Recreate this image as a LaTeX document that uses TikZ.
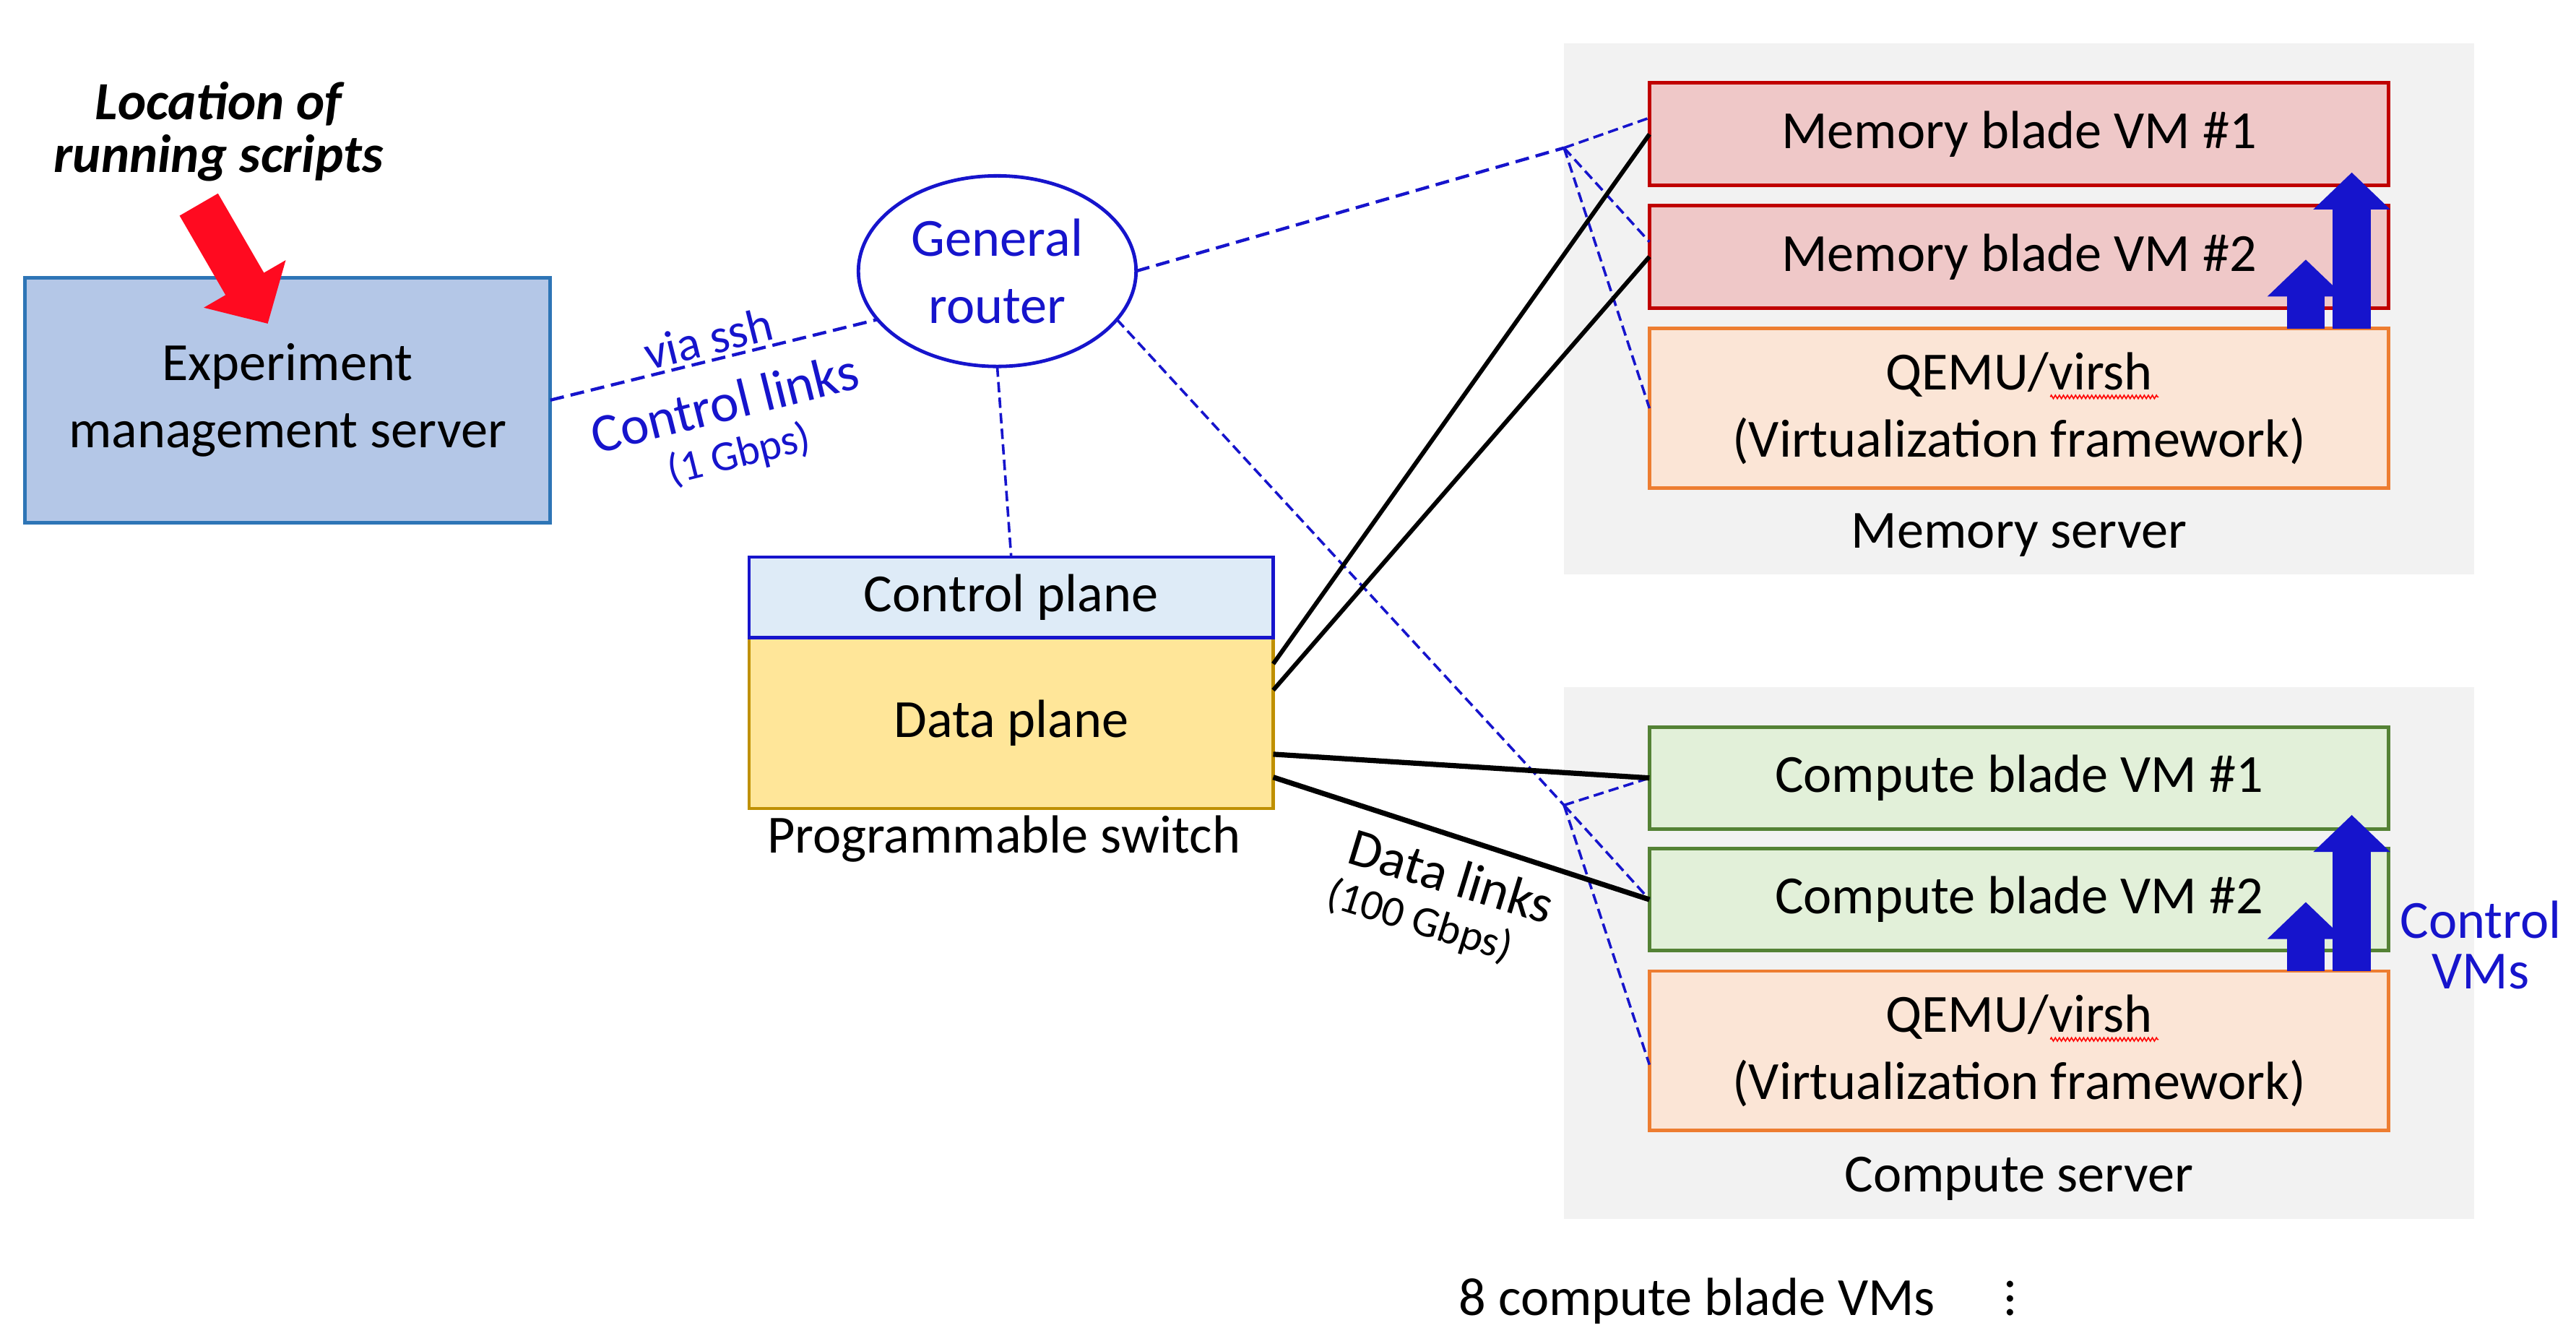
\documentclass[tikz,border=0pt]{standalone}
\usepackage{fontspec}
\setmainfont{Carlito}
\usepackage{tikz}
\usetikzlibrary{arrows.meta,positioning,calc,shapes.geometric,decorations.pathmorphing}
\definecolor{ctrlblue}{RGB}{22,20,204}
\definecolor{mgmtfill}{RGB}{180,199,231}
\definecolor{mgmtdraw}{RGB}{46,117,182}
\definecolor{cpfill}{RGB}{222,235,247}
\definecolor{dpfill}{RGB}{255,230,153}
\definecolor{dpdraw}{RGB}{191,144,0}
\definecolor{memfill}{RGB}{239,200,200}
\definecolor{memdraw}{RGB}{192,0,0}
\definecolor{qemufill}{RGB}{251,229,214}
\definecolor{qemudraw}{RGB}{237,125,49}
\definecolor{compfill}{RGB}{226,240,217}
\definecolor{compdraw}{RGB}{84,130,53}
\definecolor{serverbg}{RGB}{242,242,242}
\definecolor{scriptred}{RGB}{255,10,32}
\tikzset{
  txt/.style={inner sep=0pt,outer sep=0pt,align=center,font=\fontsize{9.3}{11.6}\selectfont},
  box/.style={txt,rectangle,draw,line width=0.6pt},
  mgmt box/.style={box,fill=mgmtfill,draw=mgmtdraw,minimum width=32mm,minimum height=14.9mm},
  router/.style={txt,ellipse,draw=ctrlblue,fill=white,text=ctrlblue,line width=0.6pt,
    minimum width=16.9mm,minimum height=11.6mm},
  cp box/.style={box,fill=cpfill,draw=ctrlblue,minimum width=31.9mm,minimum height=4.9mm},
  dp box/.style={box,fill=dpfill,draw=dpdraw,minimum width=31.9mm,minimum height=10.4mm},
  vm mem/.style={box,fill=memfill,draw=memdraw,minimum width=45mm,minimum height=6.25mm},
  vm comp/.style={box,fill=compfill,draw=compdraw,minimum width=45mm,minimum height=6.2mm},
  virt box/.style={box,fill=qemufill,draw=qemudraw,minimum width=45mm,minimum height=9.7mm},
  server bg/.style={rectangle,fill=serverbg,minimum width=55.4mm,minimum height=32.35mm,inner sep=0pt},
  link lbl/.style={txt,text=ctrlblue},
  ctrl link/.style={draw=ctrlblue,line width=0.55pt,dash pattern=on 2.4pt off 1.2pt},
  tap link/.style={draw=ctrlblue,line width=0.45pt,dash pattern=on 1.8pt off 0.9pt},
  data link/.style={draw=black,line width=0.75pt},
  ctrl arrow/.style={draw=ctrlblue,line width=2.3mm,-{Triangle[length=2.25mm,width=4.55mm]}},
  script arrow/.style={draw=scriptred,line width=2.7mm,-{Triangle[length=2.8mm,width=5.6mm]}},
  squiggle/.style={draw=red,line width=0.2pt,decorate,decoration={zigzag,segment length=0.7pt,amplitude=0.3pt}}
}

\begin{document}
\begin{tikzpicture}
  \useasboundingbox (0,0) rectangle (15.68,8.16);
  \node[server bg] (memsrv) at (12.29,6.28) {};
  \node[server bg] (compsrv) at (12.29,2.36) {};
  \node[txt] (memlbl) at ([yshift=2.5mm]memsrv.south) {Memory server};
  \node[txt] (complbl) at ([yshift=2.5mm]compsrv.south) {Compute server};

  \node[mgmt box] (mgmt) at (1.75,5.725) {Experiment\\management server};
  \node[txt,font=\fontsize{9.3}{9.1}\selectfont\bfseries\itshape] (loc) at (1.33,7.36) {Location of\\running scripts};
  \node[router] (rtr) at (6.07,6.51) {General\\router};
  \node[dp box] (dp) at (6.155,3.76) {Data plane};
  \node[cp box,above=0pt of dp] (cp) {Control plane};
  \node[txt] (swlbl) at ([yshift=-1.86mm,xshift=-0.45mm]dp.south) {Programmable switch};

  \node[vm mem] (memA) at (12.29,7.343) {Memory blade VM \#1};
  \node[vm mem,below=1.2mm of memA] (memB) {Memory blade VM \#2};
  \node[virt box,below=1.25mm of memB] (qemuM) {QEMU/virsh\\(Virtualization framework)};
  \node[vm comp] (compA) at (12.29,3.4255) {Compute blade VM \#1};
  \node[vm comp,below=1.2mm of compA] (compB) {Compute blade VM \#2};
  \node[virt box,below=1.25mm of compB] (qemuC) {QEMU/virsh\\(Virtualization framework)};

  \node[link lbl,font=\fontsize{8.4}{10}\selectfont,rotate=14] (sshlbl) at (4.31,6.10) {via ssh};
  \node[link lbl,font=\fontsize{9.4}{11}\selectfont,rotate=14] (ctrllbl) at (4.41,5.71) {Control links};
  \node[link lbl,font=\fontsize{7.4}{9}\selectfont,rotate=14] (gbps1) at (4.50,5.39) {(1 Gbps)};
  \node[txt,rotate=-17] (datalbl) at (8.835,2.83) {Data links};
  \node[txt,font=\fontsize{7.5}{9}\selectfont,rotate=-17] (gbps100) at (8.64,2.55) {(100 Gbps)};
  \node[link lbl,font=\fontsize{9.3}{8.7}\selectfont] (ctrlvm) at (15.10,2.41) {Control\\VMs};
  \node[txt,anchor=base] (vmcount) at (10.33,0.154) {8 compute blade VMs};
  \node[inner sep=0pt,font=\fontsize{9.3}{11.6}\selectfont,anchor=base] (vmdots) at (12.235,0.154)
    {\vbox{\baselineskip=2.45pt\lineskiplimit=-5pt\hbox{.}\hbox{.}\hbox{.}}};

  \coordinate (memtap) at (9.52,7.26);
  \coordinate (comptap) at (9.52,3.26);
  \coordinate (scripttail) at (1.21,6.915);
  \coordinate (scripttip) at (1.63,6.19);

  \draw[ctrl link] (mgmt.east) -- (rtr.202);
  \draw[tap link] (rtr.south) -- (cp.north);
  \draw[ctrl link] (rtr.east) -- (memtap);
  \draw[tap link] (memtap) -- ([yshift=1mm]memA.west);
  \draw[tap link] (memtap) -- ([yshift=0.9mm]memB.west);
  \draw[tap link] (memtap) -- (qemuM.west);
  \draw[tap link] (rtr.338) -- (comptap);
  \draw[tap link] (comptap) -- (compA.west);
  \draw[tap link] (comptap) -- (compB.west);
  \draw[tap link] (comptap) -- ([yshift=-0.85mm]qemuC.west);

  \draw[data link] ([yshift=3.6mm]dp.east) -- (memA.west);
  \draw[data link] ([yshift=2mm]dp.east) -- (memB.west);
  \draw[data link,line width=0.9pt] ([yshift=-1.9mm]dp.east) -- (compA.west);
  \draw[data link,line width=0.9pt] ([yshift=-3.3mm]dp.east) -- (compB.west);

  \draw[ctrl arrow] ([xshift=-5.05mm]qemuM.north east) -- ++(0,0.42);
  \draw[ctrl arrow] ([xshift=-2.25mm]qemuM.north east) -- ++(0,0.95);
  \draw[ctrl arrow] ([xshift=-5.05mm]qemuC.north east) -- ++(0,0.42);
  \draw[ctrl arrow] ([xshift=-2.25mm]qemuC.north east) -- ++(0,0.95);

  \draw[squiggle] ([xshift=1.9mm,yshift=0.69mm]qemuM.center) -- ++(0.66,0);
  \draw[squiggle] ([xshift=1.9mm,yshift=0.69mm]qemuC.center) -- ++(0.66,0);

  \draw[script arrow] (scripttail) -- (scripttip);
\end{tikzpicture}
\end{document}
